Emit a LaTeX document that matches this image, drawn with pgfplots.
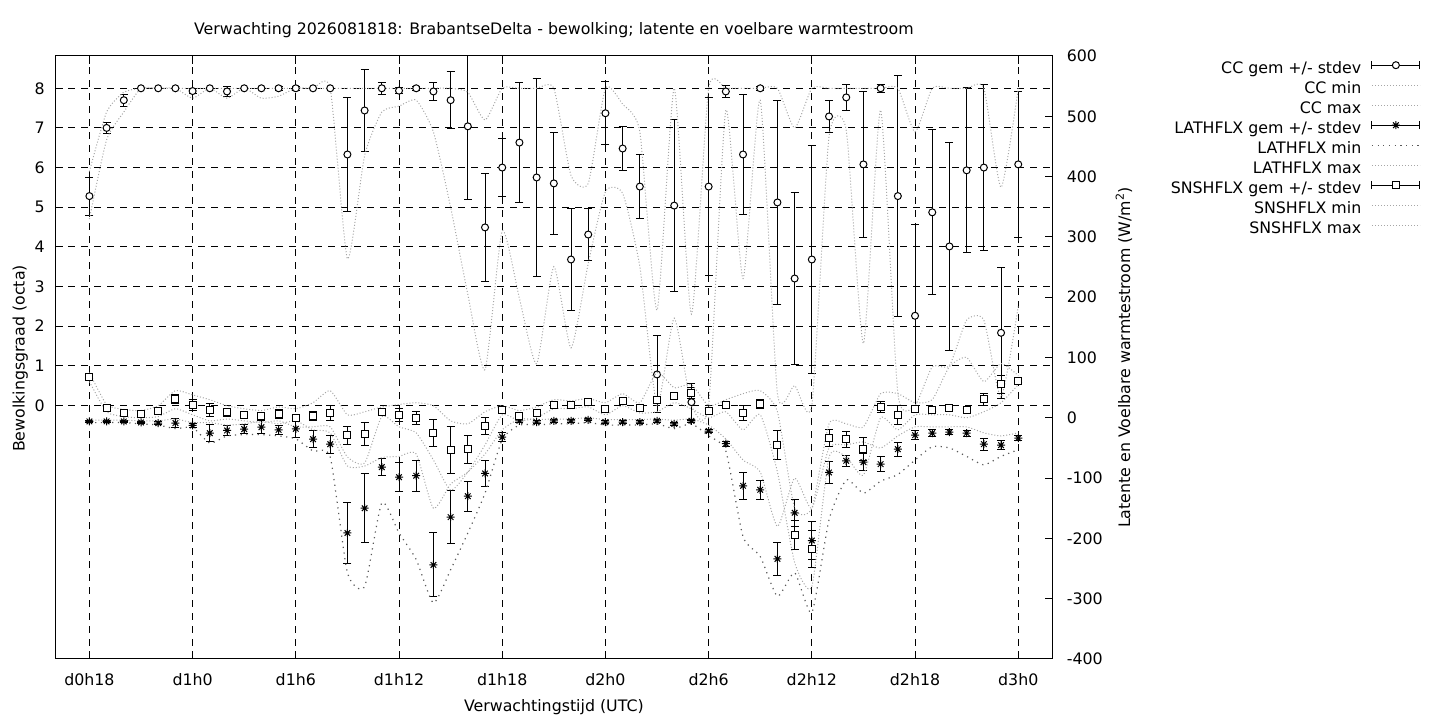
\documentclass[border=0pt]{standalone}
\usepackage{fontspec}
\setmainfont{DejaVu Sans}
\usepackage{pgfplots}
\pgfplotsset{compat=1.18}
\usepackage{pgfplotstable}
\newcommand\gpfont{\fontsize{15.8bp}{18bp}\selectfont}

\pgfdeclareplotmark{gpstar}{%
  \pgfpathmoveto{\pgfqpoint{-\pgfplotmarksize}{0pt}}%
  \pgfpathlineto{\pgfqpoint{\pgfplotmarksize}{0pt}}%
  \pgfpathmoveto{\pgfqpoint{0pt}{-\pgfplotmarksize}}%
  \pgfpathlineto{\pgfqpoint{0pt}{\pgfplotmarksize}}%
  \pgfpathmoveto{\pgfqpoint{-0.7\pgfplotmarksize}{-0.7\pgfplotmarksize}}%
  \pgfpathlineto{\pgfqpoint{0.7\pgfplotmarksize}{0.7\pgfplotmarksize}}%
  \pgfpathmoveto{\pgfqpoint{-0.7\pgfplotmarksize}{0.7\pgfplotmarksize}}%
  \pgfpathlineto{\pgfqpoint{0.7\pgfplotmarksize}{-0.7\pgfplotmarksize}}%
  \pgfusepathqstroke}

\pgfplotstableread{
h cc ccerr ccmin ccmax lat laterr latmin latmax sns snserr snsmin snsmax
18 5.28 0.48 4.7 5.9 -6 2 -8 -4 68 3 60 75
19 7.0 0.13 6.7 7.4 -6 2 -8 -4 16 2 10 22
20 7.7 0.15 7.4 7.9 -6 2 -8 -4 8 2 2 14
21 8.0 0 8 8 -7.7 2 -10 -5 6 2 0 12
22 8.0 0 8 8 -8.8 3 -12 -5 11.6 2 2 20
23 8.0 0 8 8 -8.8 7 -18 -2 31 8 15 45
24 7.93 0.07 7.75 8 -12.7 3 -16 -8 21.5 9 5 38
25 8.0 0 8 8 -25.4 14 -42 -8 13.3 11 -5 30
26 7.92 0.12 7.75 8 -21 8 -30 -12 8.8 7 -2 20
27 8.0 0 8 8 -18.8 8 -28 -10 5 2 -5 15
28 8.0 0 7.75 8 -15.5 11 -28 -6 2.2 4 -8 12
29 8.0 0.05 7.8 8 -20 8 -30 -10 6.6 7 -5 18
30 8.0 0.05 8 8 -18.2 14 -35 -5 -0.6 5 -15 15
31 8.0 0 8 8 -35.4 14 -55 -20 3.3 7 -15 25
32 8.0 0 8 8 -43.7 15 -65 -25 7.7 13 -15 45
33 6.33 1.45 3.7 8 -191 51 -257 -80 -28.8 15 -65 5
34 7.44 1.03 6.3 8 -150 57 -280 -80 -26.5 19 -75 10
35 8.0 0.15 7.4 8 -81.8 14.4 -141 -66 9.4 3 2 18
36 7.94 0.07 7.55 8 -98.4 23.5 -191 -64 5 11 -15 22
37 8.0 0.05 7.7 8 -96 26 -235 -60 -0.6 11 -25 25
38 7.92 0.23 6.9 8 -244 53 -307 -150 -25.4 23 -70 20
39 7.70 0.72 5.0 8 -164.7 43.4 -252 -110 -53.6 39.5 -120 -5
40 7.04 1.84 2.8 7.9 -130 25 -191 -90 -52 23 -90 -10
41 4.49 1.36 0.9 7.2 -92.3 21 -125 -60 -13.3 14 -45 10
42 6.00 0.73 4.4 8 -32 8 -36 -20 12.7 3 5 20
43 6.63 1.52 2.7 8 -5 2 -12 -2 2.2 3 -5 12
44 5.75 2.49 1.05 8 -7.2 2 -12 -3 7.7 3 0 18
45 5.60 1.28 3.5 8 -5 2 -10 -2 21 3 15 30
46 3.68 1.28 1.45 5.8 -5 2 -10 -2 21.5 2 15 28
47 4.31 0.65 3.58 5.6 -3.3 2 -8 0 26 2 18 32
48 7.37 0.80 5.39 8 -7.2 2 -12 -3 14.4 2 5 25
49 6.48 0.55 5.35 7.6 -7.2 2 -12 -3 28.2 2 20 40
50 5.52 0.80 3.5 6.9 -7.2 2 -12 -3 16 2 8 25
51 0.78 0.97 0 2.4 -5 2 -10 -2 28.8 5 10 75
52 5.04 2.17 2.2 8 -10 2 -18 -4 36.5 5 25 50
53 0.08 0.47 0 2.3 -5 2 -10 -2 41 9.5 15 55
54 5.52 2.25 0 8 -22 3 -30 -12 10.5 5 0 20
55 7.92 0.15 7.45 8 -43 4.5 -55 -35 21 3 10 30
56 6.33 1.52 3.2 8 -112.8 22 -197 -70 7.7 13 -20 40
57 8.0 0.05 7.7 8 -119.4 15.5 -230 -90 22.7 7.5 5 45
58 5.12 2.57 0.3 8 -234 27.5 -296 -180 -45.3 24.6 -90 10
59 3.20 2.17 0.5 7.0 -157.5 22.3 -257 -100 -194.5 24 -240 -150
60 3.68 2.88 0 8 -203.5 31 -323 -150 -217.7 31 -280 -150
61 7.29 0.40 6.78 8 -90.7 17.8 -169 -50 -33.7 13.5 -65 -10
62 7.77 0.33 6.94 8 -71.3 8.7 -103 -45 -35.4 13.5 -65 -10
63 6.08 1.85 1.56 8 -73.5 14.5 -125 -40 -52 18.8 -95 -15
64 8.0 0.1 7.45 8 -76.8 12 -105 -50 17.7 9 0 40
65 5.28 3.05 0.3 8 -52 11.8 -94 -30 4.4 16 -20 40
66 2.26 2.3 0 6.9 -28.8 7 -70 -15 14.4 3 5 25
67 4.87 2.08 0.97 8 -25.4 6 -48 -15 12.7 3 5 30
68 4.01 2.63 1.0 8 -23.8 4 -50 -15 16 3 5 85
69 5.93 2.08 2.15 8 -25.4 5 -64 -15 12.7 3 0 100
70 6.00 2.1 2.15 8 -43.7 10 -78 -25 31 10 10 60
71 1.83 1.65 0.2 5.5 -45.3 7.5 -64 -30 55.8 15 25 90
72 6.08 1.85 2.5 8 -33.7 4 -53 -25 60.8 3 55 70
}\data

\pgfplotsset{
  lightdot/.style={black!35, line width=1bp, dash pattern=on 1bp off 2bp, smooth, tension=0.35, no markers},
  darkdot/.style={black!65, line width=1.2bp, dash pattern=on 1.2bp off 4.5bp, smooth, tension=0.35, no markers},
  ebar/.style={black, line width=1bp, only marks, mark options={solid, fill=white, draw=black},
    error bars/y dir=both, error bars/y explicit,
    error bars/error bar style={line width=1bp, black, solid},
    error bars/error mark options={black, line width=1bp, mark size=4bp, rotate=90}},
  lineleg/.style={legend image code/.code={\draw[##1] (0bp,5.5bp) -- (48bp,5.5bp);}},
  errlegbase/.code={\draw[black,line width=1bp] (0bp,5.5bp) -- (48bp,5.5bp) (0bp,1.5bp) -- (0bp,9.5bp) (48bp,1.5bp) -- (48bp,9.5bp);},
  legcc/.style={legend image code/.code={\pgfkeys{/pgfplots/errlegbase}\draw[black,line width=1bp,fill=white] (24bp,5.5bp) circle (3.5bp);}},
  leglat/.style={legend image code/.code={\pgfkeys{/pgfplots/errlegbase}\draw[black,line width=1bp] (20bp,5.5bp)--(28bp,5.5bp) (24bp,1.5bp)--(24bp,9.5bp) (21.2bp,2.7bp)--(26.8bp,8.3bp) (21.2bp,8.3bp)--(26.8bp,2.7bp);}},
  legsns/.style={legend image code/.code={\pgfkeys{/pgfplots/errlegbase}\draw[black,line width=1bp,fill=white] (20.5bp,2bp) rectangle (27.5bp,9bp);}},
  common/.style={at={(55bp,61bp)}, anchor=south west, scale only axis,
    width=997.7bp, height=603bp, xmin=16, xmax=74,
    tick align=inside, major tick length=8bp,
    tick style={black, line width=1bp},
    axis line style={black, line width=1bp},
    tick label style={font=\gpfont},
    clip=true},
}

\begin{document}
\gpfont
\begin{tikzpicture}
\path[use as bounding box] (0,0) rectangle (1440bp,720bp);
\begin{axis}[common,
  ymin=-6.40, ymax=8.815,
  xtick={18,24,...,72},
  xticklabels={d0h18,d1h0,d1h6,d1h12,d1h18,d2h0,d2h6,d2h12,d2h18,d3h0},
  ytick={0,1,...,8},
  yticklabels={0,1,2,3,4,5,6,7,8},
  ytick pos=left,
  xticklabel style={anchor=base, inner sep=0pt, yshift=-26.7bp},
  yticklabel style={anchor=east, inner sep=0pt, xshift=-10bp},
  xmajorgrids, ymajorgrids,
  major grid style={black, line width=0.9bp, dash pattern=on 7bp off 6bp},
]
\addplot[ebar, mark=*, mark size=3.5bp] table[x=h, y=cc, y error=ccerr]{\data};
\addplot[lightdot] table[x=h, y=ccmin]{\data};
\addplot[lightdot] table[x=h, y=ccmax]{\data};
\end{axis}
\begin{axis}[common,
  ymin=-400, ymax=600,
  axis x line=none, axis y line*=right,
  ytick={-400,-300,...,600},
  yticklabels={-400,-300,-200,-100,0,100,200,300,400,500,600},
  yticklabel style={anchor=west, inner sep=0pt, xshift=14bp},
  legend style={at={(1.3687,0.9922)}, anchor=north east, draw=none, fill=none,
    inner sep=0pt, outer sep=0pt, row sep=0pt, column sep=10bp, font=\gpfont,
    nodes={inner sep=0pt, text height=13bp, text depth=7bp}},
  legend cell align=right,
  legend plot pos=right,
]
\addlegendimage{legcc}
\addlegendentry{CC gem +/- stdev}
\addlegendimage{lightdot, lineleg}
\addlegendentry{CC min}
\addlegendimage{lightdot, lineleg}
\addlegendentry{CC max}
\addplot[ebar, mark=gpstar, mark size=4bp, leglat] table[x=h, y=lat, y error=laterr]{\data};
\addlegendentry{LATHFLX gem +/- stdev}
\addplot[darkdot, lineleg] table[x=h, y=latmin]{\data};
\addlegendentry{LATHFLX min}
\addplot[lightdot, lineleg] table[x=h, y=latmax]{\data};
\addlegendentry{LATHFLX max}
\addplot[ebar, mark=square*, mark size=3.5bp, legsns] table[x=h, y=sns, y error=snserr]{\data};
\addlegendentry{SNSHFLX gem +/- stdev}
\addplot[lightdot, lineleg] table[x=h, y=snsmin]{\data};
\addlegendentry{SNSHFLX min}
\addplot[lightdot, lineleg] table[x=h, y=snsmax]{\data};
\addlegendentry{SNSHFLX max}
\end{axis}
\node[anchor=base] at (553.85bp,685.3bp) {Verwachting 2026081818: BrabantseDelta - bewolking; latente en voelbare warmtestroom};
\node[anchor=base] at (553.85bp,8.3bp) {Verwachtingstijd (UTC)};
\node[anchor=base, rotate=90] at (24.5bp,361.5bp) {Bewolkingsgraad (octa)};
\node[anchor=base, rotate=90] at (1130bp,362.5bp) {Latente en Voelbare warmtestroom (W/m\textsuperscript{2})};
\end{tikzpicture}
\end{document}
